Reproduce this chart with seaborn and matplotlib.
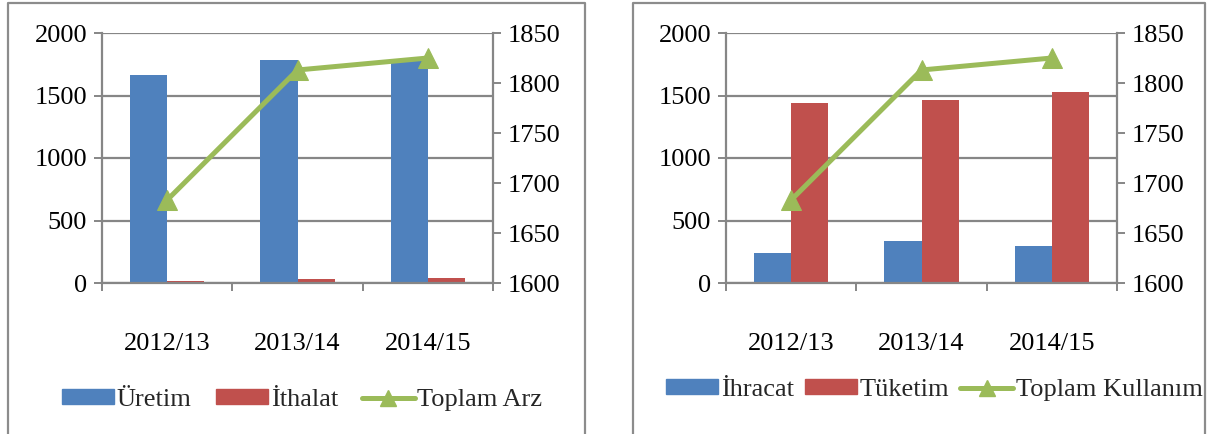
import numpy as np
import pandas as pd
import matplotlib
matplotlib.use("Agg")
import matplotlib.pyplot as plt
import seaborn as sns
from matplotlib.lines import Line2D
from matplotlib.patches import Patch

# ---------------- data ----------------
years = ["2012/13", "2013/14", "2014/15"]
uretim = [1665, 1783, 1785]
ithalat = [18, 30, 42]
toplam_arz = [1683, 1813, 1825]
ihracat = [240, 340, 300]
tuketim = [1440, 1465, 1525]
toplam_kullanim = [1683, 1813, 1825]
left_ticks = [0, 500, 1000, 1500, 2000]
right_ticks = [1600, 1650, 1700, 1750, 1800, 1850]

BLUE = "#4F81BD"
RED = "#C0504D"
GREEN = "#9BBB59"
GRAY = "#868686"
FS = 19

sns.set_theme(style="white")
plt.rcParams["font.family"] = ["Liberation Serif", "DejaVu Serif"]

W, H = 1211, 434
fig = plt.figure(figsize=(W / 100, H / 100), dpi=100)


def rect(x0, y0, x1, y1):
    return [x0 / W, 1 - y1 / H, (x1 - x0) / W, (y1 - y0) / H]


# panel borders (open at bottom: cropped)
for x0, x1 in [(8, 585), (633, 1205)]:
    fig.add_artist(Line2D([x0 / W, x0 / W, x1 / W, x1 / W], [0, 1 - 3 / H, 1 - 3 / H, 0],
                          color="#8c8c8c", lw=1.6, transform=fig.transFigure))


def panel(box, s1, s2, line, names, leg_c, colsp):
    ax = fig.add_axes(box)
    df = pd.DataFrame({
        "Yıl": years * 2,
        "Değer": list(s1) + list(s2),
        "Seri": [names[0]] * len(years) + [names[1]] * len(years),
    })
    sns.barplot(data=df, x="Yıl", y="Değer", hue="Seri", palette=[BLUE, RED],
                width=0.57, saturation=1, linewidth=0, ax=ax, legend=False)
    ax.set_xlim(-0.5, len(years) - 0.5)
    ax.set_ylim(left_ticks[0], left_ticks[-1])
    ax.set_yticks(left_ticks)
    ax.set_xlabel("")
    ax.set_ylabel("")
    ax.set_axisbelow(True)
    ax.yaxis.grid(True, color=GRAY, lw=1.6)
    ax.xaxis.grid(False)
    for s in ["top", "right"]:
        ax.spines[s].set_visible(False)
    for s in ["left", "bottom"]:
        ax.spines[s].set_color(GRAY)
        ax.spines[s].set_linewidth(1.6)
    ax.tick_params(axis="y", left=True, direction="out", length=5.8, width=1.4,
                   color=GRAY, labelsize=FS, pad=5, labelcolor="black")
    ax.set_xticks(range(len(years)))
    ax.set_xticklabels(years)
    ax.set_xticks(np.arange(-0.5, len(years)), minor=True)
    ax.tick_params(axis="x", which="major", length=0, labelsize=FS, pad=36,
                   labelcolor="black")
    ax.tick_params(axis="x", which="minor", bottom=True, direction="out",
                   length=5.8, width=1.4, color=GRAY)

    ax2 = ax.twinx()
    sns.lineplot(x=np.arange(len(years)), y=line, ax=ax2, color=GREEN, lw=3.6,
                 marker="^", markersize=15, markeredgecolor=GREEN, legend=False)
    ax2.set_ylim(right_ticks[0], right_ticks[-1])
    ax2.set_yticks(right_ticks)
    ax2.set_ylabel("")
    for s in ["top", "left", "bottom"]:
        ax2.spines[s].set_visible(False)
    ax2.spines["right"].set_color(GRAY)
    ax2.spines["right"].set_linewidth(1.6)
    ax2.tick_params(axis="y", right=True, direction="out", length=5.8, width=1.4,
                    color=GRAY, labelsize=FS, pad=5, labelcolor="black")

    handles = [Patch(color=BLUE), Patch(color=RED),
               Line2D([], [], color=GREEN, lw=3.6, marker="^", markersize=12)]
    fig.legend(handles, names, loc="center",
               bbox_to_anchor=(leg_c[0] / W, 1 - leg_c[1] / H),
               ncol=3, frameon=False, fontsize=FS, handlelength=2.0,
               handleheight=0.53, handletextpad=0.1, columnspacing=colsp,
               borderaxespad=0, borderpad=0)


panel(rect(102, 33, 493, 283), uretim, ithalat, toplam_arz,
      ["Üretim", "İthalat", "Toplam Arz"], (302, 400), 0.9)
panel(rect(726, 33, 1117, 283), ihracat, tuketim, toplam_kullanim,
      ["İhracat", "Tüketim", "Toplam Kullanım"], (934, 390), 0.4)

fig.savefig("out.png", dpi=100)
